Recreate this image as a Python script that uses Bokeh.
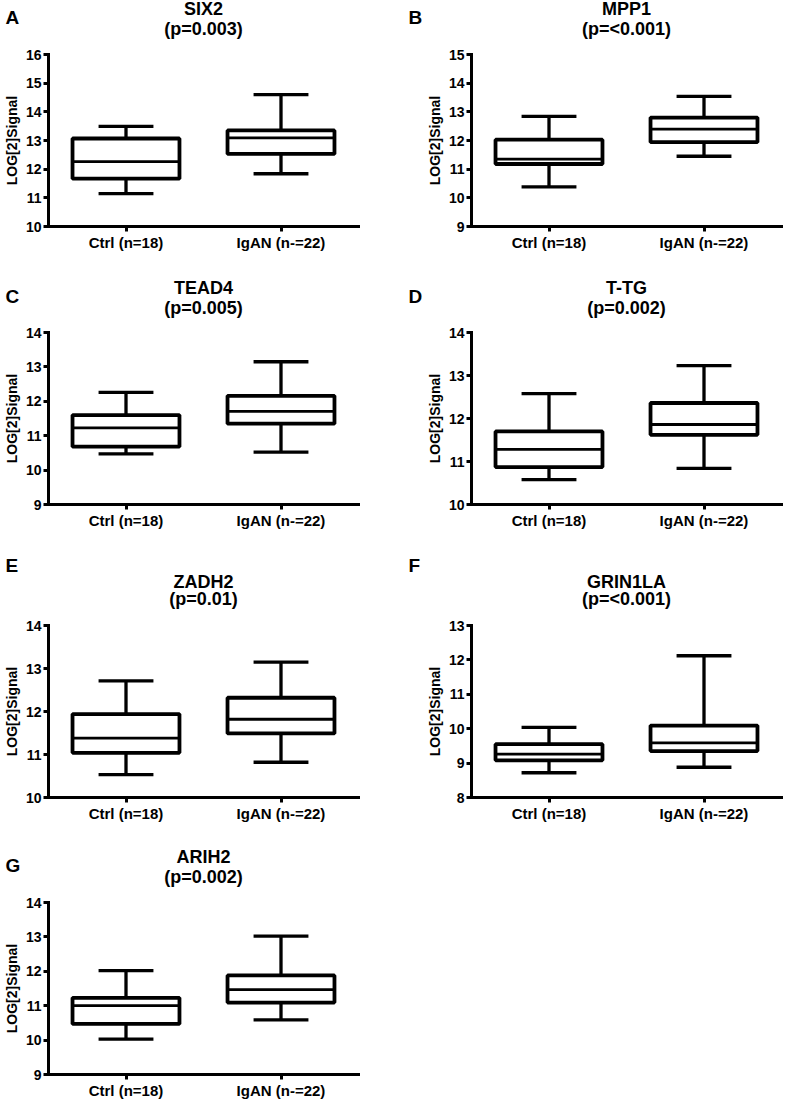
from bokeh.plotting import figure
from bokeh.models import Range1d, FactorRange, Title, ColumnDataSource
from bokeh.transform import dodge
from bokeh.layouts import column, row
from bokeh.embed import file_html
from bokeh.resources import INLINE

groups = ["Ctrl (n=18)", "IgAN (n-=22)"]
letters = ["A", "B", "C", "D", "E", "F", "G"]
genes = ["SIX2", "MPP1", "TEAD4", "T-TG", "ZADH2", "GRIN1LA", "ARIH2"]
pvalues = ["(p=0.003)", "(p=<0.001)", "(p=0.005)", "(p=0.002)", "(p=0.01)", "(p=<0.001)", "(p=0.002)"]
y_min = [10, 9, 9, 10, 10, 8, 9]
y_max = [16, 15, 14, 14, 14, 13, 14]

# values per gene: [Ctrl, IgAN]
whisker_low = [[11.15, 11.84], [10.38, 11.45], [10.47, 10.52], [10.58, 10.84],
               [10.53, 10.82], [8.72, 8.88], [10.03, 10.59]]
q1 = [[11.67, 12.53], [11.18, 11.94], [10.68, 11.35], [10.87, 11.62],
      [11.04, 11.49], [9.08, 9.35], [10.47, 11.09]]
median = [[12.26, 13.09], [11.35, 12.40], [11.23, 11.71], [11.28, 11.86],
          [11.38, 11.82], [9.26, 9.59], [11.00, 11.47]]
q3 = [[13.07, 13.35], [12.03, 12.80], [11.60, 12.16], [11.70, 12.36],
      [11.94, 12.32], [9.55, 10.09], [11.23, 11.88]]
whisker_high = [[13.49, 14.60], [12.84, 13.54], [12.26, 13.15], [12.58, 13.23],
                [12.71, 13.15], [10.04, 12.12], [12.02, 13.02]]

FONT = "Liberation Sans"
FW, FH = 310, 172


def make_panel(i, left, right, top, bottom, spacer, letter_above, letter_dx):
    p = figure(x_range=FactorRange(factors=groups),
               y_range=Range1d(y_min[i], y_max[i]),
               frame_width=FW, frame_height=FH,
               min_border_left=left, min_border_right=right,
               min_border_top=top, min_border_bottom=bottom,
               toolbar_location=None, output_backend="svg")
    p.outline_line_color = None
    p.xgrid.visible = False
    p.ygrid.visible = False
    p.background_fill_color = "white"
    p.border_fill_color = "white"

    src = ColumnDataSource(dict(
        cat=groups, low=whisker_low[i], q1=q1[i], med=median[i],
        q3=q3[i], high=whisker_high[i]))

    lw = 3.3
    p.segment(x0="cat", y0="q3", x1="cat", y1="high", source=src,
              line_color="black", line_width=lw)
    p.segment(x0="cat", y0="low", x1="cat", y1="q1", source=src,
              line_color="black", line_width=lw)
    for col in ("high", "low"):
        p.segment(x0=dodge("cat", -0.177, range=p.x_range), y0=col,
                  x1=dodge("cat", 0.177, range=p.x_range), y1=col,
                  source=src, line_color="black", line_width=lw)
    p.vbar(x="cat", bottom="q1", top="q3", width=0.69, source=src,
           fill_color="white", line_color="black", line_width=3.8)
    p.segment(x0=dodge("cat", -0.345, range=p.x_range), y0="med",
              x1=dodge("cat", 0.345, range=p.x_range), y1="med",
              source=src, line_color="black", line_width=2.8)

    for ax in (p.xaxis[0], p.yaxis[0]):
        ax.axis_line_width = 3
        ax.axis_line_cap = "square"
        ax.major_tick_line_width = 3
        ax.major_tick_out = 5
        ax.major_tick_in = 0
        ax.minor_tick_out = 0
        ax.minor_tick_in = 0
        ax.major_label_text_font = FONT
        ax.major_label_text_font_style = "bold"
        ax.major_label_text_color = "black"
        ax.axis_line_color = "black"
        ax.major_tick_line_color = "black"
    p.yaxis.ticker = list(range(y_min[i], y_max[i] + 1))
    p.yaxis.major_label_text_font_size = "14px"
    p.yaxis.major_label_standoff = 2
    p.yaxis.axis_label = "LOG[2]Signal"
    p.yaxis.axis_label_text_font = FONT
    p.yaxis.axis_label_text_font_style = "bold"
    p.yaxis.axis_label_text_font_size = "14px"
    p.yaxis.axis_label_text_color = "black"
    p.yaxis.axis_label_standoff = 3
    p.xaxis.major_label_text_font_size = "15px"
    p.xaxis.major_label_standoff = 2

    title_kw = dict(text_font=FONT, text_font_style="bold", text_color="black")
    # spacer row between frame and the p-value line
    p.add_layout(Title(text=" ", align="center", text_font_size="4px",
                       standoff=spacer), "above")
    letter = Title(text=letters[i], align="left", offset=letter_dx,
                   text_font_size="19px", **title_kw)
    if letter_above:
        p.add_layout(Title(text=pvalues[i], align="center", text_font_size="18px",
                           standoff=0, **title_kw), "above")
        letter.standoff = 0
        p.add_layout(Title(text=genes[i], align="center", text_font_size="18px",
                           standoff=-11, **title_kw), "above")
        p.add_layout(letter, "above")
    else:
        p.add_layout(Title(text=pvalues[i], align="center", text_font_size="18px",
                           standoff=4, **title_kw), "above")
        letter.standoff = -27
        p.add_layout(letter, "above")
        p.add_layout(Title(text=genes[i], align="center", text_font_size="18px",
                           standoff=-8, **title_kw), "above")
    return p


LEFT_L, LEFT_R = 44, 20
RIGHT_L, RIGHT_R = 93, 4

rows_cfg = [  # (top, bottom, spacer standoff, letter above gene line)
    (46, 48, 6.5, False),
    (58, 48, 6, False),
    (72, 47, 10, True),
    (58, 22, 7, False),
]

idx = 0
layout_rows = []
for top, bottom, spacer, above in rows_cfg:
    pl = make_panel(idx, LEFT_L, LEFT_R, top, bottom, spacer, above, -43)
    idx += 1
    if idx < len(genes):
        pr = make_panel(idx, RIGHT_L, RIGHT_R, top, bottom, spacer, above, -63)
        idx += 1
        layout_rows.append(row(pl, pr, spacing=0))
    else:
        layout_rows.append(row(pl, spacing=0))

layout = column(*layout_rows, spacing=0)
open("out.html", "w").write(file_html(layout, INLINE))
